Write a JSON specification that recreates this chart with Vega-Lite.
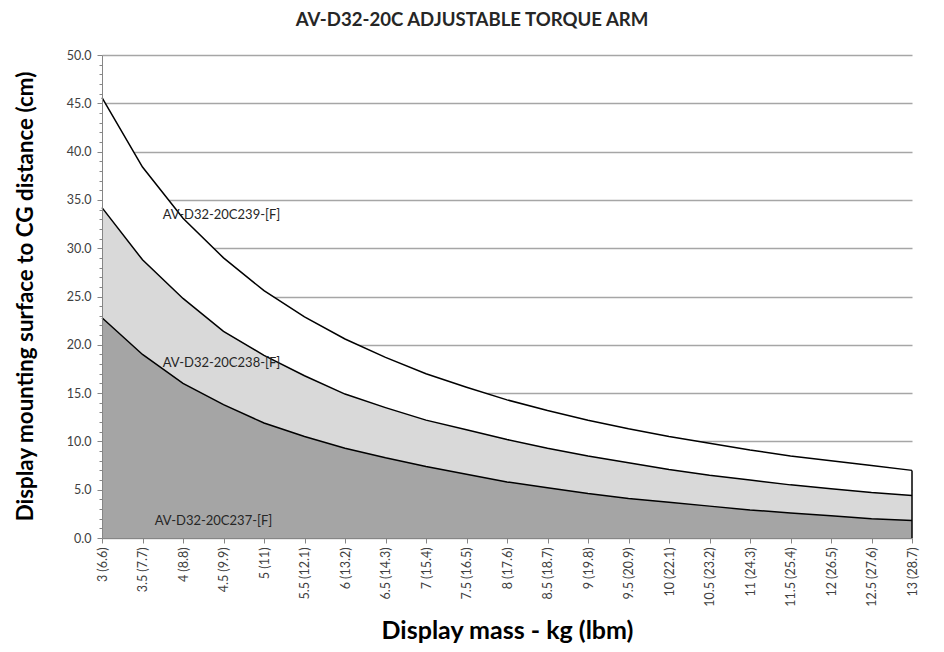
{
  "$schema": "https://vega.github.io/schema/vega-lite/v6.json",
  "width": 810,
  "height": 483,
  "autosize": {"type": "none"},
  "padding": {"left": 102, "top": 55, "right": 32, "bottom": 114},
  "background": "white",
  "title": {"text": "AV-D32-20C ADJUSTABLE TORQUE ARM", "font": "Lato", "fontSize": 18.6, "fontWeight": "bold", "color": "#262626", "anchor": "middle", "dx": -35, "offset": 19},
  "config": {"view": {"stroke": null}, "font": "Lato"},
  "datasets": {
    "curves": [
      {"mass": "3 (6.6)", "top": 45.6, "mid": 34.2, "bot": 22.8},
      {"mass": "3.5 (7.7)", "top": 38.4, "mid": 28.8, "bot": 19.0},
      {"mass": "4 (8.8)", "top": 33.1, "mid": 24.8, "bot": 16.0},
      {"mass": "4.5 (9.9)", "top": 29.0, "mid": 21.4, "bot": 13.8},
      {"mass": "5 (11)", "top": 25.6, "mid": 18.9, "bot": 11.9},
      {"mass": "5.5 (12.1)", "top": 22.9, "mid": 16.8, "bot": 10.5},
      {"mass": "6 (13.2)", "top": 20.6, "mid": 14.9, "bot": 9.3},
      {"mass": "6.5 (14.3)", "top": 18.7, "mid": 13.5, "bot": 8.3},
      {"mass": "7 (15.4)", "top": 17.0, "mid": 12.2, "bot": 7.4},
      {"mass": "7.5 (16.5)", "top": 15.6, "mid": 11.2, "bot": 6.6},
      {"mass": "8 (17.6)", "top": 14.3, "mid": 10.2, "bot": 5.8},
      {"mass": "8.5 (18.7)", "top": 13.2, "mid": 9.3, "bot": 5.2},
      {"mass": "9 (19.8)", "top": 12.2, "mid": 8.5, "bot": 4.6},
      {"mass": "9.5 (20.9)", "top": 11.3, "mid": 7.8, "bot": 4.1},
      {"mass": "10 (22.1)", "top": 10.5, "mid": 7.1, "bot": 3.7},
      {"mass": "10.5 (23.2)", "top": 9.8, "mid": 6.5, "bot": 3.3},
      {"mass": "11 (24.3)", "top": 9.1, "mid": 6.0, "bot": 2.9},
      {"mass": "11.5 (25.4)", "top": 8.5, "mid": 5.5, "bot": 2.6},
      {"mass": "12 (26.5)", "top": 8.0, "mid": 5.1, "bot": 2.3},
      {"mass": "12.5 (27.6)", "top": 7.5, "mid": 4.7, "bot": 2.0},
      {"mass": "13 (28.7)", "top": 7.0, "mid": 4.4, "bot": 1.8}
    ],
    "labels": [
      {"mass": "4.5 (9.9)", "y": 33.4, "label": "AV-D32-20C239-[F]"},
      {"mass": "4.5 (9.9)", "y": 18.1, "label": "AV-D32-20C238-[F]"}
    ],
    "labels2": [
      {"mass": "4.5 (9.9)", "y": 1.8, "label": "AV-D32-20C237-[F]"}
    ]
  },
  "data": {"name": "curves"},
  "resolve": {"axis": {"y": "independent"}},
  "layer": [
    {
      "mark": {"type": "area", "fill": "white", "opacity": 1},
      "encoding": {
        "x": {"field": "mass", "type": "ordinal", "sort": null, "scale": {"type": "point", "padding": 0},
          "axis": {"title": "Display mass - kg (lbm)", "titleFont": "Lato", "titleFontSize": 25, "titleFontWeight": "bold", "titleColor": "#000000", "titleY": 92, "titleBaseline": "middle",
            "labelAngle": -90, "labelFontSize": 12.5, "labelColor": "#404040", "labelPadding": 4, "tickColor": "#868686", "domainColor": "#868686", "tickSize": 5, "zindex": 1}},
        "y": {"field": "top", "type": "quantitative", "scale": {"domain": [0, 50], "nice": false},
          "axis": {"orient": "left", "grid": false, "zindex": 1,
            "values": [0,1,2,3,4,5,6,7,8,9,10,11,12,13,14,15,16,17,18,19,20,21,22,23,24,25,26,27,28,29,30,31,32,33,34,35,36,37,38,39,40,41,42,43,44,45,46,47,48,49,50],
            "labelExpr": "datum.value % 5 == 0 ? format(datum.value, '.1f') : ''",
            "tickSize": {"condition": {"test": "datum.value % 5 == 0", "value": 5}, "value": 3},
            "labelPadding": 6, "labelFontSize": 12.5, "labelColor": "#404040", "tickColor": "#868686", "domainColor": "#868686",
            "title": "Display mounting surface to CG distance (cm)", "titleFont": "Lato", "titleFontSize": 22.4, "titleFontWeight": "bold", "titleColor": "#000000",
            "titleX": -77, "titleY": 241, "titleAlign": "center", "titleBaseline": "middle"}}
      }
    },
    {
      "mark": {"type": "area", "fill": "#d9d9d9", "opacity": 1},
      "encoding": {
        "x": {"field": "mass", "type": "ordinal", "sort": null},
        "y": {"field": "mid", "type": "quantitative",
          "axis": {"orient": "right", "grid": true, "gridColor": "#a6a6a6", "gridWidth": 1.5, "labels": false, "ticks": false, "domain": false, "title": null, "zindex": 0,
            "values": [0,5,10,15,20,25,30,35,40,45,50]}}
      }
    },
    {
      "mark": {"type": "area", "fill": "#a5a5a5", "opacity": 1},
      "encoding": {
        "x": {"field": "mass", "type": "ordinal", "sort": null},
        "y": {"field": "bot", "type": "quantitative", "axis": null}
      }
    },
    {
      "mark": {"type": "line", "color": "#000000", "strokeWidth": 1.5},
      "encoding": {
        "x": {"field": "mass", "type": "ordinal", "sort": null},
        "y": {"field": "top", "type": "quantitative", "axis": null}
      }
    },
    {
      "mark": {"type": "line", "color": "#000000", "strokeWidth": 1.5},
      "encoding": {
        "x": {"field": "mass", "type": "ordinal", "sort": null},
        "y": {"field": "mid", "type": "quantitative", "axis": null}
      }
    },
    {
      "mark": {"type": "line", "color": "#000000", "strokeWidth": 1.5},
      "encoding": {
        "x": {"field": "mass", "type": "ordinal", "sort": null},
        "y": {"field": "bot", "type": "quantitative", "axis": null}
      }
    },
    {
      "transform": [{"filter": "datum.mass == '13 (28.7)'"}],
      "mark": {"type": "rule", "color": "#000000", "strokeWidth": 1.5},
      "encoding": {
        "x": {"field": "mass", "type": "ordinal", "sort": null},
        "y": {"field": "top", "type": "quantitative", "axis": null},
        "y2": {"datum": 0}
      }
    },
    {
      "data": {"name": "labels"},
      "mark": {"type": "text", "font": "Lato", "fontSize": 13, "color": "#262626", "align": "center", "baseline": "middle", "dx": -2},
      "encoding": {
        "x": {"field": "mass", "type": "ordinal", "sort": null},
        "y": {"field": "y", "type": "quantitative", "axis": null},
        "text": {"field": "label"}
      }
    },
    {
      "data": {"name": "labels2"},
      "mark": {"type": "text", "font": "Lato", "fontSize": 13, "color": "#262626", "align": "center", "baseline": "middle", "dx": -10},
      "encoding": {
        "x": {"field": "mass", "type": "ordinal", "sort": null},
        "y": {"field": "y", "type": "quantitative", "axis": null},
        "text": {"field": "label"}
      }
    }
  ]
}
